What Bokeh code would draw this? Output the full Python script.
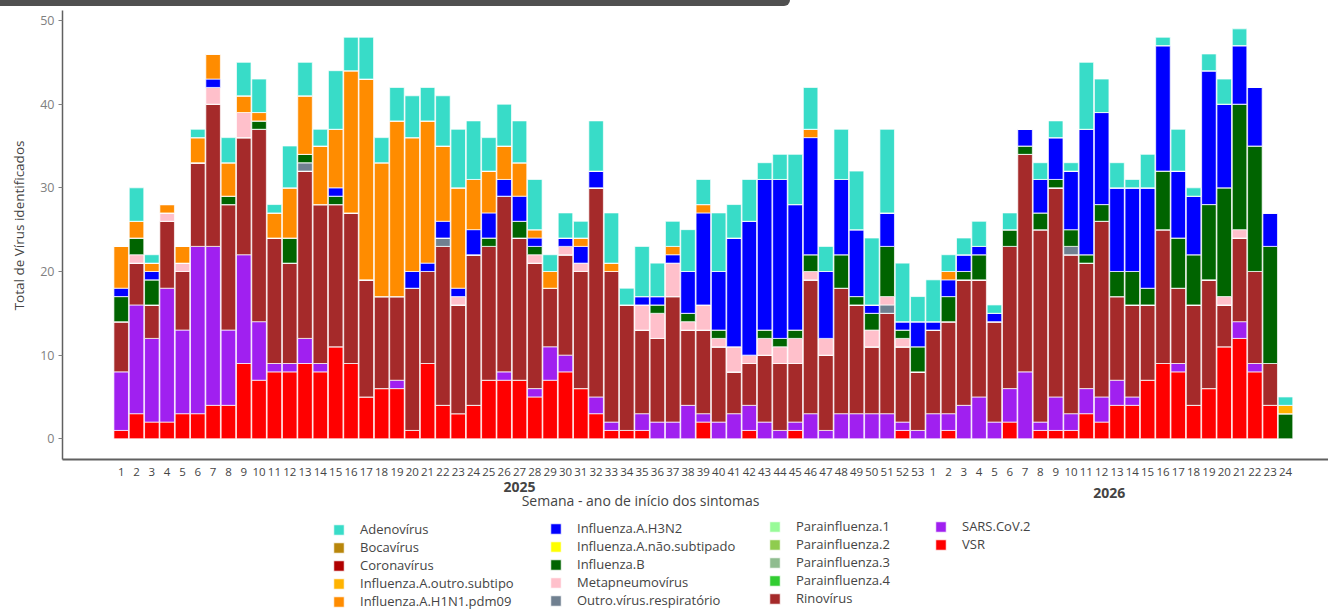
import math
from bokeh.plotting import figure
from bokeh.models import ColumnDataSource, Legend, LegendItem, Label, FixedTicker, Range1d, Div
from bokeh.layouts import column
from bokeh.embed import file_html
from bokeh.resources import INLINE

FONT = "Open Sans"

# ---------------- data ----------------
year_labels = ["2025", "2026"]
weeks_2025 = [str(w) for w in range(1, 54)]
weeks_2026 = [str(w) for w in range(1, 25)]

vsr_2025 = [1, 3, 2, 2, 3, 3, 4, 4, 9, 7, 8, 8, 9, 8, 11, 9, 5, 6, 6, 1,
            9, 4, 3, 4, 7, 7, 7, 5, 7, 8, 6, 3, 1, 1, 1, 0, 0, 0, 2, 0,
            0, 1, 0, 0, 1, 0, 0, 0, 0, 0, 0, 1, 0]
vsr_2026 = [0, 1, 0, 0, 0, 2, 0, 1, 1, 1, 3, 2, 4, 4, 7, 9, 8, 4, 6, 11,
            12, 8, 4, 0]

sars_2025 = [7, 13, 10, 16, 10, 20, 19, 9, 13, 7, 1, 1, 3, 1, 0, 0, 0, 0, 1, 0,
             0, 0, 0, 0, 0, 1, 0, 1, 4, 2, 0, 2, 1, 0, 2, 2, 2, 4, 1, 2,
             3, 3, 2, 1, 1, 3, 1, 3, 3, 3, 3, 1, 1]
sars_2026 = [3, 2, 4, 5, 2, 4, 8, 1, 4, 2, 3, 3, 3, 1, 0, 0, 1, 0, 0, 0,
             2, 1, 0, 0]

rino_2025 = [6, 5, 4, 8, 7, 10, 17, 15, 14, 23, 15, 12, 20, 19, 17, 18, 14, 11, 10, 17,
             11, 19, 13, 18, 16, 21, 17, 15, 7, 12, 14, 25, 18, 15, 10, 10, 15, 9, 10, 9,
             5, 5, 8, 8, 7, 16, 9, 15, 13, 8, 12, 9, 7]
rino_2026 = [10, 11, 15, 14, 12, 17, 26, 23, 25, 19, 15, 21, 10, 11, 9, 16, 9, 12, 13, 5,
             10, 11, 5, 0]

outro_2025 = [0, 0, 0, 0, 0, 0, 0, 0, 0, 0, 0, 0, 1, 0, 0, 0, 0, 0, 0, 0,
              0, 1, 0, 0, 0, 0, 0, 0, 0, 0, 0, 0, 0, 0, 0, 0, 0, 0, 0, 0,
              0, 0, 0, 0, 0, 0, 0, 0, 0, 0, 1, 0, 0]
outro_2026 = [0, 0, 0, 0, 0, 0, 0, 0, 0, 1, 0, 0, 0, 0, 0, 0, 0, 0, 0, 0,
              0, 0, 0, 0]

meta_2025 = [0, 1, 0, 1, 1, 0, 2, 0, 3, 0, 0, 0, 0, 0, 0, 0, 0, 0, 0, 0,
             0, 0, 1, 0, 0, 0, 0, 1, 0, 1, 1, 0, 0, 0, 3, 3, 4, 1, 3, 1,
             3, 1, 2, 2, 3, 1, 2, 0, 0, 2, 1, 1, 0]
meta_2026 = [0, 0, 0, 0, 0, 0, 0, 0, 0, 0, 0, 0, 0, 0, 0, 0, 0, 0, 0, 1,
             1, 0, 0, 0]

flub_2025 = [3, 2, 3, 0, 0, 0, 0, 1, 0, 1, 0, 3, 1, 0, 1, 0, 0, 0, 0, 0,
             0, 0, 0, 0, 1, 0, 2, 1, 0, 0, 0, 0, 0, 0, 0, 1, 0, 1, 0, 1,
             0, 0, 1, 1, 1, 2, 0, 4, 1, 2, 6, 1, 3]
flub_2026 = [0, 3, 1, 3, 0, 2, 1, 2, 1, 2, 1, 2, 3, 4, 2, 7, 6, 6, 9, 13,
             15, 15, 14, 3]

h3n2_2025 = [1, 0, 1, 0, 0, 0, 1, 0, 0, 0, 0, 0, 0, 0, 1, 0, 0, 0, 0, 2,
             1, 2, 1, 3, 3, 2, 3, 1, 0, 1, 2, 2, 0, 0, 1, 1, 1, 5, 11, 7,
             13, 16, 18, 19, 15, 14, 8, 9, 8, 1, 4, 1, 3]
h3n2_2026 = [1, 2, 2, 1, 1, 0, 2, 4, 5, 7, 15, 11, 10, 10, 12, 15, 8, 7, 16, 10,
             7, 7, 4, 0]

h1n1_2025 = [5, 2, 1, 1, 2, 3, 3, 4, 2, 1, 3, 6, 7, 7, 7, 17, 24, 16, 21, 16,
             17, 9, 12, 6, 5, 4, 4, 1, 2, 0, 1, 0, 1, 0, 0, 0, 1, 0, 1, 0,
             0, 0, 0, 0, 0, 1, 0, 0, 0, 0, 0, 0, 0]
h1n1_2026 = [0, 1, 0, 0, 0, 0, 0, 0, 0, 0, 0, 0, 0, 0, 0, 0, 0, 0, 0, 0,
             0, 0, 0, 0]

fluoutro_2025 = [0] * 53
fluoutro_2026 = [0, 0, 0, 0, 0, 0, 0, 0, 0, 0, 0, 0, 0, 0, 0, 0, 0, 0, 0, 0,
                 0, 0, 0, 1]

adeno_2025 = [0, 4, 1, 0, 0, 1, 0, 3, 4, 4, 1, 5, 4, 2, 7, 4, 5, 3, 4, 5,
              4, 6, 7, 7, 4, 5, 5, 6, 2, 3, 2, 6, 6, 2, 6, 4, 3, 5, 3, 7,
              4, 5, 2, 3, 6, 5, 3, 6, 7, 8, 10, 7, 3]
adeno_2026 = [5, 2, 2, 3, 1, 2, 0, 2, 2, 1, 8, 4, 3, 1, 4, 1, 5, 1, 2, 3,
              2, 0, 0, 1]

# series with no detections in the period
none_2025 = [0] * 53
none_2026 = [0] * 24

names = ["Adenovírus", "Bocavírus", "Coronavírus", "Influenza.A.outro.subtipo",
         "Influenza.A.H1N1.pdm09", "Influenza.A.H3N2", "Influenza.A.não.subtipado",
         "Influenza.B", "Metapneumovírus", "Outro.vírus.respiratório",
         "Parainfluenza.1", "Parainfluenza.2", "Parainfluenza.3", "Parainfluenza.4",
         "Rinovírus", "SARS.CoV.2", "VSR"]
colors = ["#38DCC8", "#B8860B", "#B00000", "#FFB300",
          "#FF8C00", "#0000FF", "#FFFF00",
          "#006400", "#FFC0CB", "#708090",
          "#98FB98", "#8FCC4F", "#8FBC8F", "#32CD32",
          "#A52A2A", "#A020F0", "#FF0000"]
values = {
    "Adenovírus": adeno_2025 + adeno_2026,
    "Bocavírus": none_2025 + none_2026,
    "Coronavírus": none_2025 + none_2026,
    "Influenza.A.outro.subtipo": fluoutro_2025 + fluoutro_2026,
    "Influenza.A.H1N1.pdm09": h1n1_2025 + h1n1_2026,
    "Influenza.A.H3N2": h3n2_2025 + h3n2_2026,
    "Influenza.A.não.subtipado": none_2025 + none_2026,
    "Influenza.B": flub_2025 + flub_2026,
    "Metapneumovírus": meta_2025 + meta_2026,
    "Outro.vírus.respiratório": outro_2025 + outro_2026,
    "Parainfluenza.1": none_2025 + none_2026,
    "Parainfluenza.2": none_2025 + none_2026,
    "Parainfluenza.3": none_2025 + none_2026,
    "Parainfluenza.4": none_2025 + none_2026,
    "Rinovírus": rino_2025 + rino_2026,
    "SARS.CoV.2": sars_2025 + sars_2026,
    "VSR": vsr_2025 + vsr_2026,
}

week_labels = weeks_2025 + weeks_2026
xs = list(range(1, len(week_labels) + 1))

data = {"x": xs}
keys = {}
for i, n in enumerate(names):
    keys[n] = "s%d" % i
    data[keys[n]] = values[n]
src = ColumnDataSource(data)

# ---------------- figure ----------------
X0, X1 = -6.878, 79.806
Y0, Y1 = -20.524, 51.673
AXIS_X = -2.831      # where the value axis stands
AXIS_Y = -2.474      # where the week axis stands
AXIS_TOP = 51.195

p = figure(width=1328, height=604, output_backend="svg", toolbar_location=None,
           x_range=Range1d(X0, X1), y_range=Range1d(Y0, Y1),
           min_border_left=0, min_border_right=0, min_border_top=0, min_border_bottom=0)
p.outline_line_color = None
p.xgrid.visible = False
p.ygrid.visible = False
p.background_fill_color = "white"
p.border_fill_color = "white"

stack_names = list(reversed(names))
stack_colors = list(reversed(colors))
renderers = p.vbar_stack([keys[n] for n in stack_names], x="x", width=0.95, source=src,
                         fill_color=stack_colors, line_color="white", line_width=1,
                         line_alpha=0.7)
rmap = dict(zip(stack_names, renderers))

# y axis
ya = p.yaxis[0]
ya.fixed_location = AXIS_X
ya.ticker = FixedTicker(ticks=[0, 10, 20, 30, 40, 50])
ya.bounds = (AXIS_Y, AXIS_TOP)
ya.major_label_text_font = FONT
ya.major_label_text_font_size = "12.5px"
ya.major_label_text_color = "#808080"
ya.major_label_standoff = 4
ya.axis_line_color = "#606060"
ya.axis_line_width = 1.5
ya.major_tick_line_color = "#808080"
ya.major_tick_in = 0
ya.major_tick_out = 4
ya.minor_tick_line_color = None

# x axis, drawn at the foot of the bars
xa = p.xaxis[0]
xa.fixed_location = AXIS_Y
xa.bounds = (AXIS_X, X1)
xa.ticker = FixedTicker(ticks=xs)
xa.major_label_overrides = {x: lab for x, lab in zip(xs, week_labels)}
xa.major_label_text_font = FONT
xa.major_label_text_font_size = "11.5px"
xa.major_label_text_color = "#444444"
xa.major_label_standoff = 3
xa.major_tick_line_color = None
xa.minor_tick_line_color = None
xa.axis_line_color = "#606060"
xa.axis_line_width = 2

# axis titles and year labels
p.add_layout(Label(x=-5.70, y=25.5, angle=math.pi / 2, text="Total de Vírus identificados",
                   text_align="center", text_baseline="middle", text_font=FONT,
                   text_font_size="13.5px", text_color="#444444"))
n25 = len(weeks_2025)
n26 = len(weeks_2026)
p.add_layout(Label(x=(1 + n25) / 2, y=-5.82, text=year_labels[0], text_align="center",
                   text_baseline="middle", text_font=FONT, text_font_size="14px",
                   text_color="#444444", text_font_style="bold"))
p.add_layout(Label(x=n25 + (1 + n26) / 2, y=-6.42, text=year_labels[1], text_align="center",
                   text_baseline="middle", text_font=FONT, text_font_size="14px",
                   text_color="#444444", text_font_style="bold"))
p.add_layout(Label(x=34.9, y=-7.38, text="Semana - ano de início dos sintomas",
                   text_align="center", text_baseline="middle", text_font=FONT,
                   text_font_size="14px", text_color="#444444"))

# legends (4 columns)
cols = [names[0:5], names[5:10], names[10:15], names[15:17]]
locs = [(332, 0), (549, 1), (768, 3), (934, 57)]
for col, loc in zip(cols, locs):
    lg = Legend(items=[LegendItem(label=n, renderers=[rmap[n]]) for n in col],
                location=loc, orientation="vertical", padding=0, margin=0, spacing=0,
                glyph_width=13, glyph_height=13, label_height=13, label_standoff=15,
                label_text_font=FONT, label_text_font_size="13px",
                label_text_color="#444444", border_line_alpha=0,
                background_fill_alpha=0)
    p.add_layout(lg)

header = Div(width=790, height=6, margin=(0, 0, 0, 0),
             styles={"background-color": "#505050", "border-bottom-right-radius": "14px"})

layout = column(header, p, spacing=0)
open("out.html", "w").write(file_html(layout, INLINE))
